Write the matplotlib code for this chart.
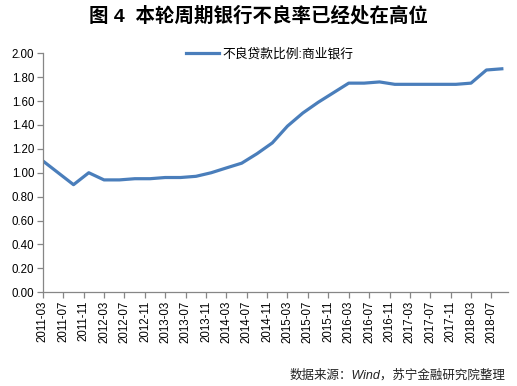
import matplotlib
matplotlib.use('Agg')
import matplotlib.pyplot as plt
import pandas as pd

plt.rcParams['font.family'] = ['Liberation Sans', 'Noto Sans CJK SC', 'DejaVu Sans']
plt.rcParams['axes.unicode_minus'] = False

# ================== 数据 ==================
quarters = ['2011-03', '2011-06', '2011-09', '2011-12',
            '2012-03', '2012-06', '2012-09', '2012-12',
            '2013-03', '2013-06', '2013-09', '2013-12',
            '2014-03', '2014-06', '2014-09', '2014-12',
            '2015-03', '2015-06', '2015-09', '2015-12',
            '2016-03', '2016-06', '2016-09', '2016-12',
            '2017-03', '2017-06', '2017-09', '2017-12',
            '2018-03', '2018-06', '2018-09']
npl_ratio = [1.10, 1.00, 0.90, 1.00,
             0.94, 0.94, 0.95, 0.95,
             0.96, 0.96, 0.97, 1.00,
             1.04, 1.08, 1.16, 1.25,
             1.39, 1.50, 1.59, 1.67,
             1.75, 1.75, 1.76, 1.74,
             1.74, 1.74, 1.74, 1.74,
             1.75, 1.86, 1.87]
tick_labels = ['2011-03', '2011-07', '2011-11', '2012-03', '2012-07', '2012-11',
               '2013-03', '2013-07', '2013-11', '2014-03', '2014-07', '2014-11',
               '2015-03', '2015-07', '2015-11', '2016-03', '2016-07', '2016-11',
               '2017-03', '2017-07', '2017-11', '2018-03', '2018-07']
series_name = '不良贷款比例:商业银行'

x = pd.to_datetime(quarters)
xt = pd.to_datetime(tick_labels)

fig = plt.figure(figsize=(5.17, 3.86), dpi=100)
ax = fig.add_axes([0.0826, 0.243, 0.8994, 0.619])

ax.plot(x, npl_ratio, color='#4A7EBB', linewidth=2.3, label=series_name)

ax.set_ylim(0, 2.0)
ax.set_yticks([i * 0.2 for i in range(11)])
ax.set_yticklabels([f'{i * 0.2:.2f}' for i in range(11)], fontsize=8.3)
ax.set_xticks(xt)
ax.set_xticklabels(tick_labels, rotation=90, fontsize=8.3)
ax.set_xlim(pd.Timestamp('2011-03-01'), pd.Timestamp('2018-10-06'))

for s in ['top', 'right']:
    ax.spines[s].set_visible(False)
for s in ['left', 'bottom']:
    ax.spines[s].set_color('#868686')
    ax.spines[s].set_linewidth(0.9)
ax.tick_params(axis='both', direction='out', length=4, color='#868686', width=0.9, pad=2)

ax.legend(loc='upper center', bbox_to_anchor=(0.488, 1.07), frameon=False,
          fontsize=9.2, handlelength=2.6, handletextpad=0.3)

fig.text(0.5, 0.958, '图 4  本轮周期银行不良率已经处在高位', ha='center', va='center',
         fontsize=14, fontweight='bold')
fig.text(0.977, 0.028, '数据来源：Wind，苏宁金融研究院整理', ha='right', va='center',
         fontsize=9, style='italic', color='#222222')

plt.savefig('out.png', dpi=100, facecolor='white')
